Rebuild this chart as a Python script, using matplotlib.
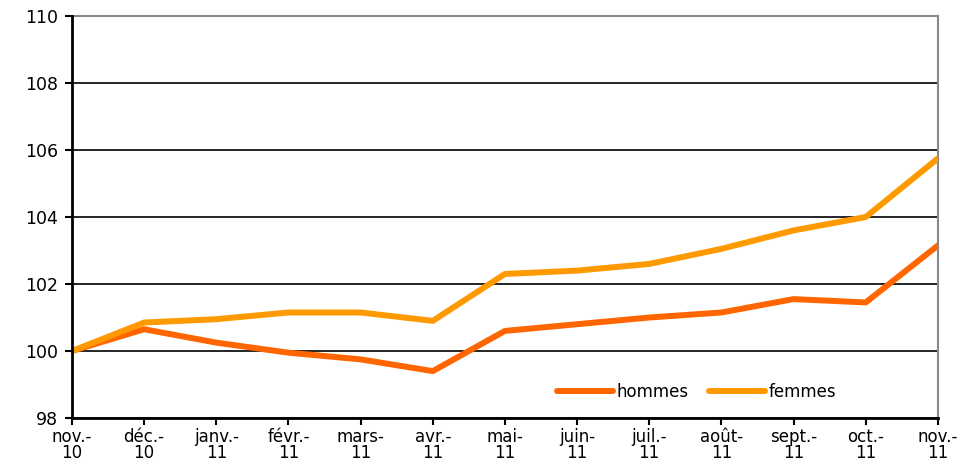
import matplotlib.pyplot as plt
import numpy as np

# mois (nov. 2010 - nov. 2011)
mois = ["nov.-\n10", "déc.-\n10", "janv.-\n11", "févr.-\n11", "mars-\n11", "avr.-\n11",
        "mai-\n11", "juin-\n11", "juil.-\n11", "août-\n11", "sept.-\n11", "oct.-\n11", "nov.-\n11"]
hommes = [100.0, 100.65, 100.25, 99.95, 99.75, 99.4, 100.6, 100.8, 101.0, 101.15, 101.55, 101.45, 103.15]
femmes = [100.0, 100.85, 100.95, 101.15, 101.15, 100.9, 102.3, 102.4, 102.6, 103.05, 103.6, 104.0, 105.75]

fig = plt.figure(figsize=(9.79, 4.72), dpi=100)
ax = fig.add_axes([0.0735, 0.1144, 0.8845, 0.8516])

x = np.arange(len(mois))
ax.plot(x, hommes, color="#FF6600", linewidth=4.3, label="hommes", solid_capstyle="round", zorder=3)
ax.plot(x, femmes, color="#FF9900", linewidth=4.3, label="femmes", solid_capstyle="round", zorder=3)

ax.set_xlim(0, len(mois) - 1)
ax.set_ylim(98, 110)
ax.set_yticks(range(98, 111, 2))
ax.set_xticks(x)
ax.set_xticklabels(mois, fontsize=12, linespacing=0.9)
ax.tick_params(axis="y", labelsize=12.5, length=5, width=1.5, direction="out", pad=5)
ax.tick_params(axis="x", length=5, width=1.5, direction="out", pad=2)

# grille horizontale
ax.yaxis.grid(True, color="black", linewidth=1.2)
ax.set_axisbelow(True)

for side in ["left", "bottom"]:
    ax.spines[side].set_linewidth(2)
    ax.spines[side].set_color("black")
    ax.spines[side].set_zorder(4)
for side in ["top", "right"]:
    ax.spines[side].set_linewidth(1.5)
    ax.spines[side].set_color("#888888")

ax.legend(loc="lower right", bbox_to_anchor=(0.9, 0.005), ncol=2, frameon=False,
          fontsize=12, handlelength=3.4, handletextpad=0.2, columnspacing=1.2)

plt.savefig("out.png", dpi=100)
